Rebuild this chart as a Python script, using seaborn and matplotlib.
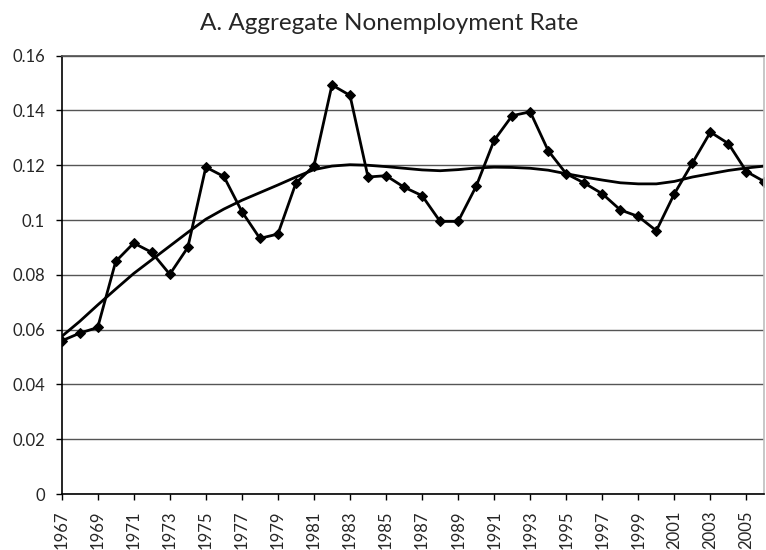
import matplotlib
matplotlib.use("Agg")
import matplotlib.pyplot as plt
import seaborn as sns
import pandas as pd
from matplotlib.ticker import FuncFormatter

# Values
years = list(range(1967, 2007))
rate = [0.0559, 0.0587, 0.0608, 0.0849, 0.0916, 0.0882, 0.0802, 0.0900,
        0.1193, 0.1159, 0.1031, 0.0933, 0.0949, 0.1135, 0.1198, 0.1493,
        0.1455, 0.1157, 0.1162, 0.1120, 0.1089, 0.0995, 0.0995, 0.1123,
        0.1291, 0.1381, 0.1395, 0.1253, 0.1169, 0.1135, 0.1096, 0.1037,
        0.1013, 0.0961, 0.1096, 0.1208, 0.1321, 0.1279, 0.1177, 0.1140]
trend = [0.0575, 0.0630, 0.0690, 0.0748, 0.0805, 0.0855, 0.0905, 0.0955,
         0.1003, 0.1040, 0.1072, 0.1100, 0.1128, 0.1157, 0.1184, 0.1197,
         0.1202, 0.1200, 0.1195, 0.1189, 0.1183, 0.1180, 0.1184, 0.1190,
         0.1193, 0.1192, 0.1189, 0.1182, 0.1169, 0.1157, 0.1146, 0.1136,
         0.1132, 0.1132, 0.1141, 0.1157, 0.1169, 0.1181, 0.1190, 0.1197]
xtick_years = list(range(1967, 2006, 2))
yticks = [0, 0.02, 0.04, 0.06, 0.08, 0.1, 0.12, 0.14, 0.16]

df = pd.DataFrame({"year": years, "rate": rate, "trend": trend})

sns.set_theme(style="white")
plt.rcParams["font.family"] = ["Lato", "DejaVu Sans"]

fig = plt.figure(figsize=(7.66, 5.5), dpi=100)
ax = fig.add_axes([0.0805, 0.1018, 0.9175, 0.797])

sns.lineplot(data=df, x="year", y="rate", color="black", lw=2,
             marker="D", markersize=5, markeredgecolor="black", ax=ax)
sns.lineplot(data=df, x="year", y="trend", color="black", lw=2, ax=ax)

ax.set_xlim(1967, 2006)
ax.set_ylim(0, 0.16)
ax.set_xticks(xtick_years)
ax.set_xticklabels([str(y) for y in xtick_years], rotation=90)
ax.set_yticks(yticks)
ax.yaxis.set_major_formatter(FuncFormatter(lambda v, p: f"{v:g}"))
ax.set_xlabel("")
ax.set_ylabel("")

ax.grid(axis="y", color="#555555", lw=1)
ax.grid(axis="x", visible=False)
ax.tick_params(axis="both", bottom=True, left=True, direction="out",
               length=4, width=1, color="black", labelsize=12, pad=8)
for side in ["left", "bottom"]:
    ax.spines[side].set_color("black")
    ax.spines[side].set_linewidth(1.2)
ax.spines["top"].set_color("#555555")
ax.spines["right"].set_color("#c0c0c0")

fig.text(0.508, 0.958, "A. Aggregate Nonemployment Rate",
         ha="center", va="center", fontsize=17.5)

fig.savefig("out.png", dpi=100)
